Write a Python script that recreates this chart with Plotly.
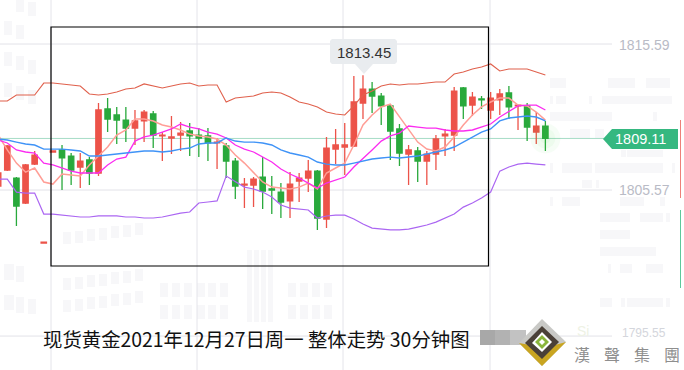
import plotly.graph_objects as go

W, H = 684, 370

candle_index = list(range(-1, 60))
opens = [1805.84,1806.94,1806.39,1804.68,1807.35,1801.93,1808.18,1808.32,1807.90,1807.15,1807.63,1806.74,1811.13,1810.72,1810.37,1809.82,1810.31,1810.79,1809.28,1809.14,1809.34,1809.62,1809.34,1809.28,1808.80,1808.59,1807.56,1805.91,1805.91,1806.46,1805.64,1805.43,1804.82,1806.19,1806.39,1806.87,1803.58,1808.38,1808.52,1808.59,1811.54,1812.50,1812.02,1811.34,1809.76,1808.04,1808.25,1807.56,1808.04,1809.28,1809.34,1812.57,1811.40,1811.82,1811.06,1811.75,1812.23,1811.34,1811.34,1809.55,1809.96]
highs = [1806.74,1808.66,1806.46,1807.35,1808.25,1802.00,1808.25,1808.66,1808.11,1808.11,1807.83,1811.54,1811.88,1811.27,1811.27,1811.06,1811.06,1810.99,1809.55,1810.65,1810.24,1810.17,1809.82,1809.82,1809.14,1808.80,1807.77,1806.39,1806.46,1807.83,1806.53,1806.05,1806.80,1806.74,1807.63,1806.94,1809.21,1809.76,1810.17,1813.39,1813.45,1812.98,1812.23,1811.40,1810.10,1808.66,1808.52,1808.25,1809.34,1809.76,1812.64,1812.64,1812.30,1812.02,1812.30,1812.50,1812.71,1811.40,1811.54,1810.92,1810.31]
lows = [1805.84,1806.87,1803.10,1804.61,1807.29,1801.93,1808.18,1805.57,1805.91,1805.71,1805.91,1806.53,1809.55,1808.73,1808.86,1808.66,1808.86,1808.45,1807.56,1808.04,1808.25,1807.90,1807.83,1807.56,1807.01,1806.39,1804.95,1804.33,1804.40,1804.27,1803.92,1803.65,1803.65,1804.75,1805.43,1802.83,1802.96,1807.35,1806.60,1808.52,1810.44,1810.85,1810.03,1807.63,1807.22,1805.91,1806.12,1805.91,1806.94,1807.90,1808.25,1810.44,1810.65,1811.13,1810.44,1810.72,1810.44,1809.69,1808.93,1808.73,1808.25]
closes = [1806.74,1808.59,1804.47,1807.29,1807.97,1802.00,1808.25,1807.77,1806.94,1807.56,1806.74,1811.06,1810.44,1810.37,1809.82,1810.31,1810.92,1809.34,1809.34,1809.21,1809.48,1809.28,1809.14,1808.80,1808.86,1807.56,1805.84,1805.98,1806.32,1805.50,1805.57,1804.75,1805.98,1806.39,1806.87,1803.65,1808.45,1808.66,1808.66,1811.61,1812.50,1812.02,1811.34,1809.62,1808.11,1808.32,1807.56,1808.04,1809.07,1809.41,1812.36,1811.34,1811.95,1811.75,1811.88,1812.16,1811.27,1811.40,1809.89,1809.96,1809.11]

boll_upper = [1811.68,1811.68,1812.09,1812.09,1812.09,1812.91,1812.91,1812.85,1812.78,1812.71,1812.16,1812.09,1812.16,1812.30,1812.50,1812.57,1812.85,1812.71,1812.57,1812.71,1812.85,1812.91,1812.71,1812.78,1812.78,1811.61,1811.88,1811.95,1812.02,1812.23,1812.30,1812.23,1811.95,1811.61,1811.47,1811.27,1810.92,1810.79,1810.72,1811.34,1812.09,1812.36,1812.71,1812.85,1812.78,1812.85,1812.85,1812.91,1812.98,1812.98,1813.53,1813.67,1813.87,1814.01,1814.22,1813.74,1813.87,1813.87,1813.87,1813.67,1813.46]
boll_mid = [1809.07,1809.00,1808.86,1808.73,1808.66,1808.38,1808.38,1808.38,1808.32,1808.25,1807.90,1807.90,1807.97,1808.04,1808.11,1808.18,1808.25,1808.25,1808.18,1808.25,1808.38,1808.45,1808.73,1808.80,1808.80,1809.14,1808.93,1808.86,1808.86,1808.80,1808.66,1808.32,1808.11,1807.97,1807.83,1807.49,1807.35,1807.29,1807.29,1807.42,1807.56,1807.70,1807.77,1807.83,1807.77,1807.83,1807.90,1808.04,1808.18,1808.32,1808.52,1808.86,1809.21,1809.55,1809.76,1810.31,1810.51,1810.58,1810.65,1810.58,1810.31]
boll_lower = [1806.32,1806.32,1805.43,1805.36,1805.36,1803.92,1803.92,1803.85,1803.79,1803.72,1803.72,1803.79,1803.79,1803.79,1803.72,1803.72,1803.65,1803.65,1803.72,1803.85,1803.99,1804.06,1804.68,1804.75,1804.82,1806.53,1806.12,1805.77,1805.64,1805.43,1805.09,1804.54,1804.33,1804.27,1804.20,1803.65,1803.79,1803.85,1803.85,1803.58,1803.24,1802.96,1802.89,1802.83,1802.83,1802.89,1803.03,1803.17,1803.37,1803.65,1803.92,1804.40,1804.68,1805.02,1805.43,1806.87,1807.15,1807.35,1807.42,1807.35,1807.29]
ma_magenta = [1809.00,1808.80,1808.32,1808.18,1808.11,1807.42,1807.29,1807.08,1806.87,1806.74,1806.74,1806.74,1807.29,1807.70,1807.83,1808.93,1809.21,1809.34,1809.55,1809.76,1810.10,1809.89,1809.76,1809.55,1809.41,1809.14,1808.66,1808.38,1808.18,1807.83,1807.49,1807.01,1806.67,1806.39,1806.05,1805.71,1806.05,1806.26,1806.46,1807.15,1807.77,1808.32,1808.93,1809.28,1809.48,1809.96,1809.89,1809.82,1809.82,1809.69,1809.62,1809.62,1809.69,1809.89,1810.10,1810.58,1810.99,1811.34,1811.40,1811.40,1811.06]
ma_salmon = [1809.34,1808.32,1807.42,1806.80,1807.08,1806.12,1805.98,1806.67,1806.60,1806.53,1807.29,1807.90,1808.52,1809.34,1809.69,1810.44,1810.44,1810.31,1810.03,1809.89,1809.69,1809.41,1809.28,1809.21,1809.07,1808.66,1807.97,1807.42,1806.80,1806.12,1805.77,1805.71,1805.64,1805.77,1806.05,1805.64,1806.74,1807.08,1807.42,1808.66,1810.03,1810.72,1811.27,1811.47,1810.58,1809.69,1808.86,1808.38,1808.25,1808.52,1809.21,1810.03,1810.72,1811.27,1811.61,1811.88,1811.88,1811.40,1811.34,1810.92,1810.37]

grid_levels = [1815.59, 1805.57, 1795.55]
grid_labels = ["1815.59", "1805.57", "1795.55"]
last_price = 1809.11
peak_price = 1813.45
caption = "现货黄金2021年12月27日周一 整体走势 30分钟图"
brand = ["漢", "聲", "集", "團"]

RED, GREEN = "#ec5349", "#29a93c"


def X(px):
    return px / W


def Y(py):
    return 1 - py / H


def rect(x0, y0, x1, y1, color, layer="below", line=None):
    return dict(type="rect", xref="paper", yref="paper", x0=X(x0), x1=X(x1), y0=Y(y0), y1=Y(y1),
                fillcolor=color, line=dict(width=line or 0, color=color), layer=layer)


def poly(points, color, layer="above"):
    d = "M " + " L ".join(f"{X(a):.5f},{Y(b):.5f}" for a, b in points) + " Z"
    return dict(type="path", xref="paper", yref="paper", path=d, fillcolor=color, line=dict(width=0), layer=layer)


def label(px, py, text, size, color, font="Liberation Sans", anchor="center"):
    return dict(xref="paper", yref="paper", x=X(px), y=Y(py), text=text, showarrow=False, xanchor=anchor,
                yanchor="middle", font=dict(size=size, color=color, family=font))


fig = go.Figure()

fig.add_trace(go.Candlestick(
    x=candle_index, open=opens, high=highs, low=lows, close=closes,
    increasing=dict(line=dict(color=RED, width=1.3), fillcolor=RED),
    decreasing=dict(line=dict(color=GREEN, width=1.3), fillcolor=GREEN),
    whiskerwidth=0, hoverinfo="skip", showlegend=False))

for values, color, width in [
    (boll_upper, "#e0614d", 1.1),
    (ma_salmon, "#ff9e96", 1.5),
    (ma_magenta, "#fb2cf0", 1.3),
    (boll_mid, "#3f93f7", 1.4),
    (boll_lower, "#ab66f2", 1.2),
]:
    fig.add_trace(go.Scatter(x=candle_index, y=values, mode="lines", line=dict(color=color, width=width),
                             hoverinfo="skip", showlegend=False))

# last-price glow on the final candle
fig.add_trace(go.Scatter(x=[59, 59, 59], y=[last_price] * 3, mode="markers", hoverinfo="skip", showlegend=False,
                         marker=dict(size=[30, 20, 10], color="rgba(60,220,70,0.07)", line=dict(width=0))))

shapes = []
# pale watermark blocks
blocks = [
    (550,78,566,88),(608,78,635,88),(646,78,670,88),
    (550,96,553,104),(556,96,566,104),(589,96,592,104),(602,96,672,104),
    (550,112,612,121),(653,112,657,121),(570,129,590,138),(595,129,604,138),
    (621,150,626,157),(627,150,663,157),
    (550,163,553,173),(562,163,592,173),(595,163,663,173),(672,163,675,173),
    (582,180,592,188),(596,180,599,188),
    (550,197,553,206),(562,197,580,206),(620,197,644,206),(660,197,665,206),
    (600,213,630,222),(640,213,663,222),(666,213,670,222),
    (600,230,630,239),(600,247,656,256),
    (608,264,611,273),(620,264,632,273),(646,264,663,273),
    (600,298,612,307),(621,298,625,307),(627,298,663,307),(666,298,670,307),
    (4,52,12,66),(16,56,24,70),(28,60,36,74),(4,83,12,97),(16,86,24,100),(28,90,36,104),
    (16,0,24,12),(28,2,36,16),(4,21,12,35),(16,25,24,39),
    (4,264,14,280),(16,266,24,282),(4,295,14,310),(16,297,24,313),(28,299,36,314),
    (247,250,252,322),(254,250,259,322),(261,250,266,322),(268,250,273,322),
]
for x in range(63, 146, 12):
    blocks += [(x, 278 - (x - 63) // 8, x + 8, 290 - (x - 63) // 8),
               (x, 300 - (x - 63) // 8, x + 8, 312 - (x - 63) // 8)]
    blocks += [(x, 232 - (x - 63) // 8, x + 8, 244 - (x - 63) // 8)]
for x in (160, 172, 184, 197, 208, 220, 288, 300, 312, 324):
    blocks += [(x, 283, x + 8, 297), (x, 305, x + 8, 319)]
for b in blocks:
    shapes.append(rect(*b, "#f7f7f9"))

# grid
for x in (51, 197, 343, 490):
    shapes.append(dict(type="line", xref="paper", yref="paper", x0=X(x), x1=X(x), y0=0, y1=1, layer="below",
                       line=dict(color="#e4e4ea", width=1)))
for lvl in grid_levels:
    shapes.append(dict(type="line", xref="paper", yref="y", x0=0, x1=X(612), y0=lvl, y1=lvl, layer="below",
                       line=dict(color="#e2e2e8", width=1)))
shapes.append(dict(type="line", xref="paper", yref="y", x0=0, x1=X(606), y0=last_price, y1=last_price, layer="below",
                   line=dict(color="#a6dcc6", width=1)))

# black frame
shapes.append(dict(type="rect", xref="paper", yref="paper", x0=X(51), x1=X(488.5), y0=Y(266), y1=Y(27),
                   line=dict(color="#000000", width=1.2), fillcolor="rgba(0,0,0,0)", layer="above"))

# peak callout
shapes.append(poly([(332, 39), (395, 39), (397, 41), (397, 62), (395, 64), (373, 64), (364, 74), (355, 64),
                    (332, 64), (330, 62), (330, 41)], "#e9ecef"))
# last price tag
shapes.append(poly([(603, 139), (612, 129), (678, 129), (678, 149), (612, 149)], "#35b880"))
# right-edge bars
shapes.append(rect(680, 120, 681, 198, "#ee7f78", "above"))
shapes.append(rect(680, 210, 681, 288, "#5cc99b", "above"))

# grey bar next to the caption
for x0, x1, c in [(480, 495, "#a8a8a8"), (495, 510, "#b2b2b2"), (510, 526, "#c2c2c2")]:
    shapes.append(rect(x0, 330, x1, 345, c, "above"))

# logo
shapes.append(poly([(542, 319), (566, 342), (542, 366), (519, 343)], "#c9c9c6"))
shapes.append(poly([(519, 343), (542, 366), (566, 342), (555, 345), (542, 358), (530, 345)], "#c9a520"))
shapes.append(poly([(542, 326), (559, 342), (542, 359), (525, 343)], "#4a4038"))
shapes.append(poly([(542, 332), (552, 342), (542, 352), (532, 343)], "#ffffff"))
shapes.append(poly([(542, 335), (549, 342), (542, 349), (535, 342)], "#8ab53c"))
shapes.append(poly([(542, 339), (545, 342), (542, 345), (539, 342)], "#ffffff"))

annotations = [
    label(364, 52, "1813.45", 15, "#333333"),
    label(644, 44.5, grid_labels[0], 14, "#b9bbc6"),
    label(644, 190.5, grid_labels[1], 14, "#b9bbc6"),
    label(640, 139, "1809.11", 14.5, "#ffffff"),
    label(644, 333, grid_labels[2], 12, "#d4d6dc"),
    label(583, 331, "Si", 14, "#eef2e4"),
    label(41, 338, caption, 19.4, "#111111", "Noto Sans CJK SC", "left"),
]
for cx, ch in zip((582, 612, 642, 672), brand):
    annotations.append(label(cx, 354, ch, 16, "#8e8e8e", "Noto Sans CJK TC"))

fig.update_layout(
    width=W, height=H, margin=dict(l=0, r=0, t=0, b=0),
    paper_bgcolor="#ffffff", plot_bgcolor="rgba(0,0,0,0)",
    boxgap=0.16,
    xaxis=dict(range=[-0.8, 74.2], visible=False, rangeslider=dict(visible=False), fixedrange=True),
    yaxis=dict(range=[1793.22, 1818.61], visible=False, fixedrange=True),
    shapes=shapes, annotations=annotations, showlegend=False,
)

fig.write_html("out.html", config={"displayModeBar": False},
               post_script="document.body.style.margin='0';document.body.style.overflow='hidden';")
